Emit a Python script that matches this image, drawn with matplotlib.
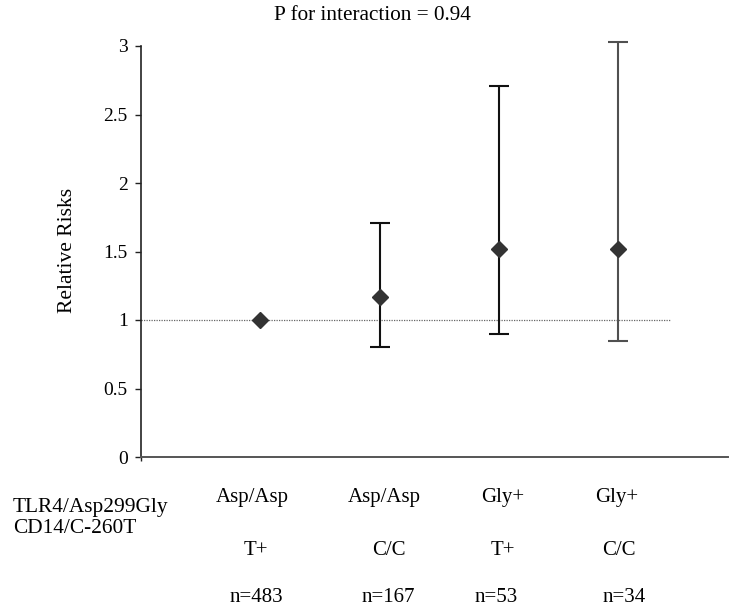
import matplotlib
matplotlib.use("Agg")
import matplotlib.pyplot as plt
import numpy as np

plt.rcParams['font.family'] = ['Liberation Serif', 'DejaVu Serif']

# data
tlr4 = ["Asp/Asp", "Asp/Asp", "Gly+", "Gly+"]
cd14 = ["T+", "C/C", "T+", "C/C"]
n_labels = ["n=483", "n=167", "n=53", "n=34"]
rr = [1.00, 1.17, 1.52, 1.52]
lower = [1.00, 0.80, 0.90, 0.85]
upper = [1.00, 1.71, 2.71, 3.03]
bar_colors = ["#111111", "#111111", "#111111", "#505050"]

pos = np.arange(1, len(rr) + 1)

W, H = 731, 608
fig = plt.figure(figsize=(W/100, H/100), dpi=100)
ax = fig.add_axes([141/W, 1 - 457/H, (728 - 141)/W, (457 - 46)/H])

# reference line at 1
ax.plot([0, 4.44], [1, 1], linestyle=(0, (1, 1)), color="#666666", linewidth=0.9, zorder=1)

for i in range(len(rr)):
    if upper[i] > lower[i]:
        err = [[rr[i] - lower[i]], [upper[i] - rr[i]]]
        eb = ax.errorbar(pos[i], rr[i], yerr=err, fmt='none', ecolor=bar_colors[i],
                         elinewidth=1.5, capsize=7, capthick=1.5, zorder=2)
        for a in eb.lines[1] + eb.lines[2]:
            a.set_clip_on(False)
ax.plot(pos, rr, linestyle='none', marker='D', markersize=8, color="#333333", zorder=3,
        clip_on=False)

ax.set_xlim(0, 4.92)
ax.set_ylim(0, 3)
ax.set_yticks([0, 0.5, 1, 1.5, 2, 2.5, 3])
ax.set_yticklabels(["0", "0.5", "1", "1.5", "2", "2.5", "3"], fontsize=14)
ax.set_xticks([0])
ax.set_xticklabels([""])
ax.tick_params(axis='y', direction='out', length=4.5, width=1, colors="#222222", pad=5)
ax.tick_params(axis='x', direction='out', length=3, width=1, colors="#222222")
ax.tick_params(axis='y', labelcolor="black")
for s in ["top", "right"]:
    ax.spines[s].set_visible(False)
ax.spines["left"].set_color("#222222")
ax.spines["bottom"].set_color("#555555")
ax.spines["left"].set_linewidth(1.2)
ax.spines["bottom"].set_linewidth(1.4)

fig.text(67/W, 1 - 250/H, "Relative Risks", rotation=90, ha='center', va='center', fontsize=15.5)
fig.text(372/W, 1 - 16/H, "P for interaction = 0.94", ha='center', va='center', fontsize=15.3)

# genotype labels below the axis
fig.text(13/W, 1 - 512/H, "TLR4/Asp299Gly", ha='left', va='baseline', fontsize=15.4)
fig.text(13/W, 1 - 533/H, "CD14/C-260T", ha='left', va='baseline', fontsize=15.4)
off_tlr4 = [-8, 5, 4, -1.5]
off_cd14 = [-4, 9, 4, 1]
off_n = [-3.5, 9, -2.5, 6]
for i in range(len(rr)):
    xf = ax.transData.transform((pos[i], 0))[0] / W
    fig.text(xf + off_tlr4[i]/W, 1 - 502/H, tlr4[i], ha='center', va='baseline', fontsize=15)
    fig.text(xf + off_cd14[i]/W, 1 - 555/H, cd14[i], ha='center', va='baseline', fontsize=15)
    fig.text(xf + off_n[i]/W, 1 - 602/H, n_labels[i], ha='center', va='baseline', fontsize=15)

fig.savefig("out.png", dpi=100)
